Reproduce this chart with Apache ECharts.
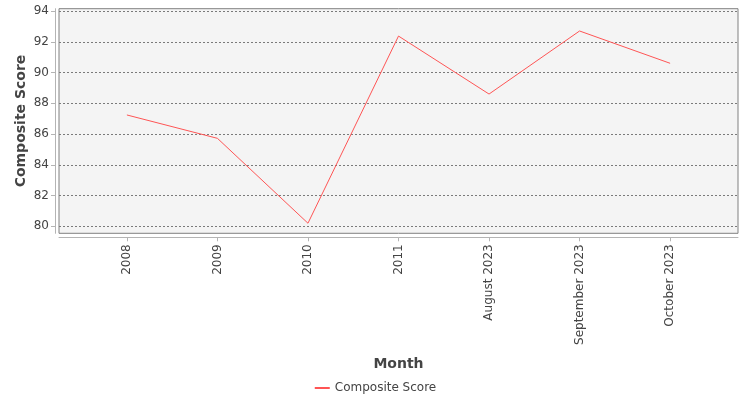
<!DOCTYPE html>
<html>
<head>
	<meta charset="UTF-8">
	<title>Composite Score</title>
	<style>
		html, body { margin: 0; padding: 0; background: #fff; }
	</style>
</head>
<body>
	<div id="main" style="width: 750px;height: 400px"></div>
	<script src="https://cdn.jsdelivr.net/npm/echarts@6/dist/echarts.min.js"></script>
	<script>
		// data
		var months = ['2008', '2009', '2010', '2011', 'August 2023', 'September 2023', 'October 2023'];
		var scores = [87.24, 85.72, 80.2, 92.37, 88.6, 92.7, 90.6];
		var yTicks = [80, 82, 84, 86, 88, 90, 92, 94];

		var points = [];
		var xTicks = [];
		for (var i = 0; i < months.length; i++) {
			points.push([i, scores[i]]);
			xTicks.push(i);
		}

		var font = 'DejaVu Sans';
		var app = echarts.init(document.getElementById('main'));
		var option = {
			backgroundColor: '#fff',
			animation: false,
			textStyle: { fontFamily: font },
			grid: {
				left: 59,
				right: 12,
				top: 8.7,
				bottom: 166.7,
				show: true,
				backgroundColor: '#f4f4f4',
				borderColor: '#808080',
				borderWidth: 1
			},
			legend: {
				bottom: 1,
				left: 'center',
				itemWidth: 15,
				itemHeight: 2,
				itemGap: 4,
				textStyle: { color: '#444', fontSize: 12, fontFamily: font },
				data: ['Composite Score']
			},
			xAxis: {
				type: 'value',
				min: -0.75,
				max: months.length - 0.25,
				offset: 4,
				name: 'Month',
				nameLocation: 'middle',
				nameGap: 120,
				nameMoveOverlap: false,
				nameTextStyle: { color: '#444', fontSize: 14, fontWeight: 'bold', fontFamily: font },
				axisLine: { onZero: false, lineStyle: { color: '#b4b4b4', width: 1 } },
				axisTick: { show: true, length: 4, customValues: xTicks, lineStyle: { color: '#b4b4b4' } },
				axisLabel: {
					customValues: xTicks,
					rotate: 90,
					margin: 7,
					color: '#444',
					fontSize: 12,
					fontFamily: font,
					formatter: function(v) { return months[v]; }
				},
				splitLine: { show: false }
			},
			yAxis: {
				type: 'value',
				min: 79.545,
				max: 94.15,
				offset: 4,
				name: 'Composite Score',
				nameLocation: 'middle',
				nameGap: 27,
				nameMoveOverlap: false,
				nameTextStyle: { color: '#444', fontSize: 14, fontWeight: 'bold', fontFamily: font },
				axisLine: { show: true, onZero: false, lineStyle: { color: '#b4b4b4', width: 1 } },
				axisTick: { show: true, length: 4, customValues: yTicks, lineStyle: { color: '#b4b4b4' } },
				axisLabel: {
					customValues: yTicks,
					margin: 6,
					color: '#444',
					fontSize: 12,
					fontFamily: font
				},
				splitLine: { show: true, lineStyle: { color: '#7a7a7a', type: [2, 2], width: 1 } }
			},
			series: [{
				name: 'Composite Score',
				type: 'line',
				symbol: 'none',
				data: points,
				lineStyle: { color: '#ff5555', width: 1 },
				itemStyle: { color: '#ff5555' }
			}]
		};
		app.setOption(option);
	</script>
</body>
</html>
